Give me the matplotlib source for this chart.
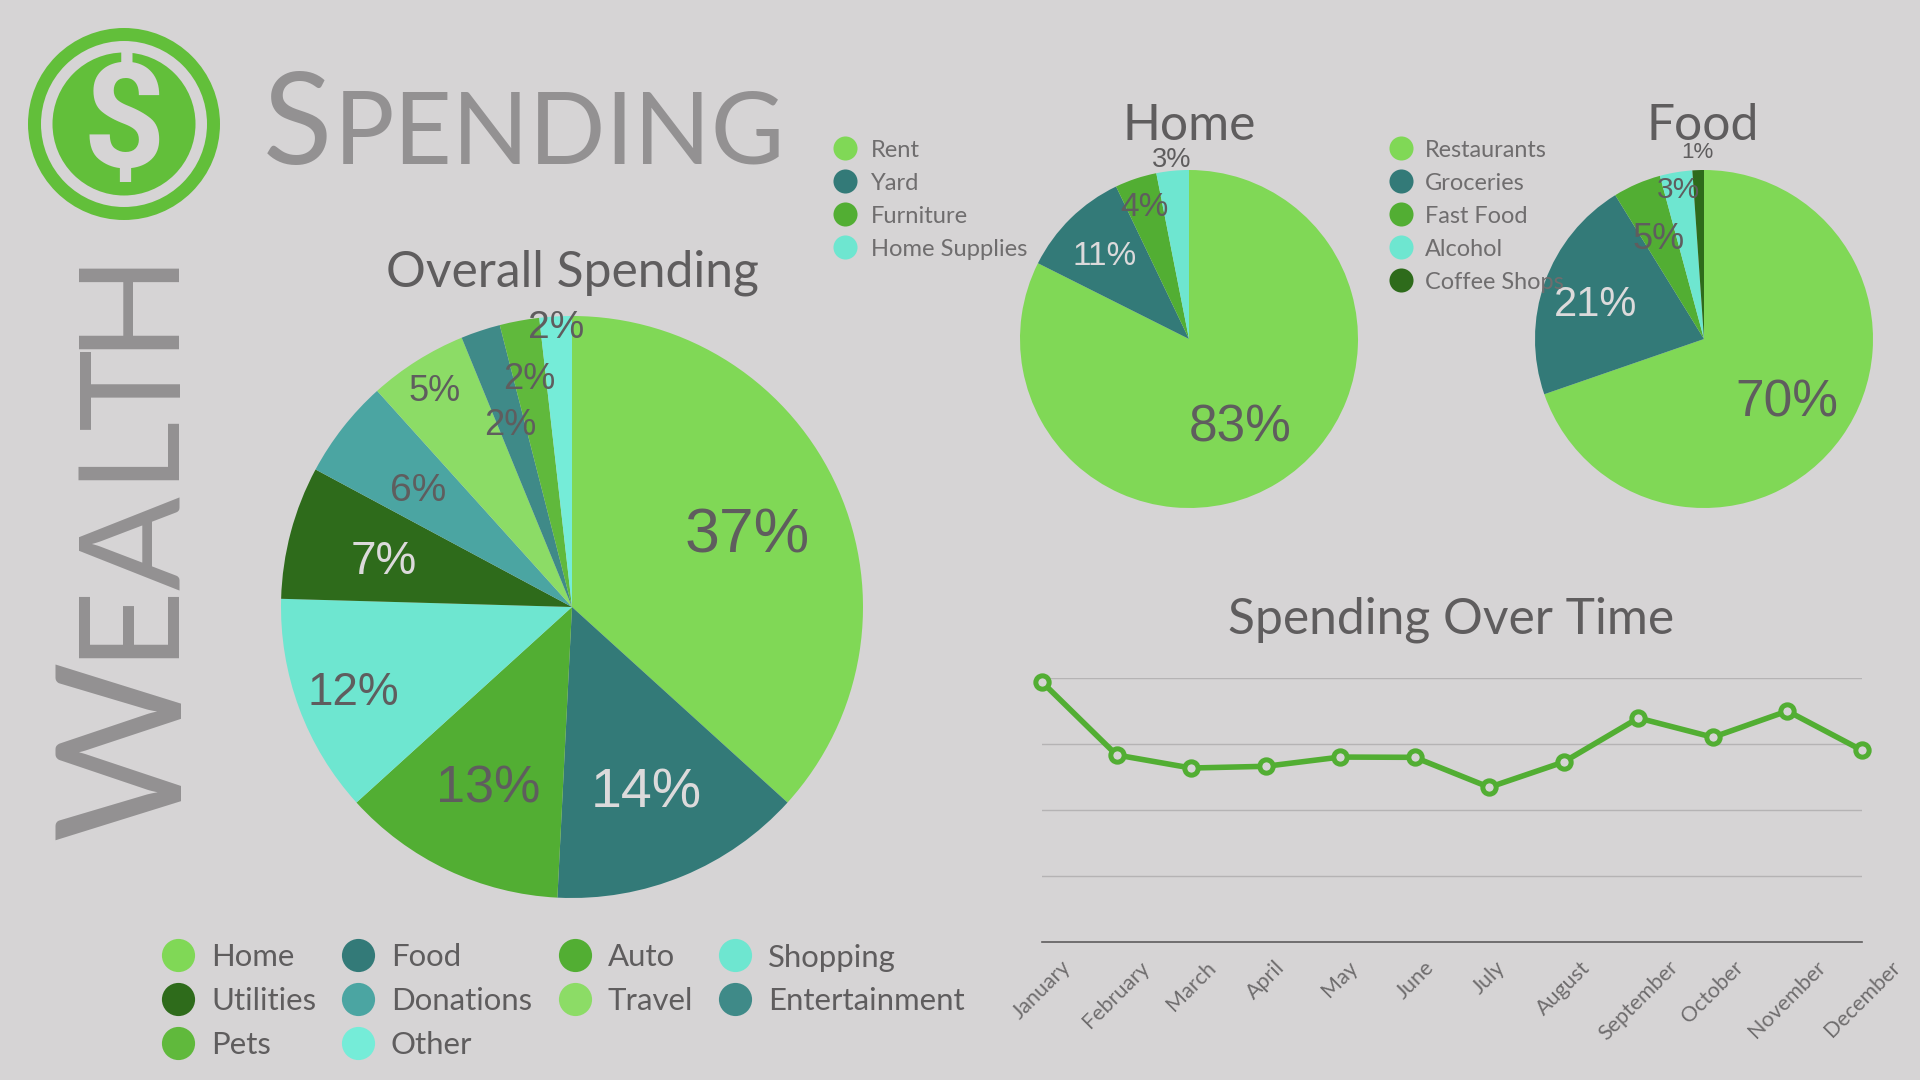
import numpy as np
import matplotlib
matplotlib.use('Agg')
import matplotlib.pyplot as plt
from matplotlib.patches import Circle

BG = '#d6d4d5'
DARK = '#5f5d5e'
LIGHT = '#dcdadb'
TITLE_GREY = '#939192'
GREEN = '#52ae33'

# overall pie
overall_names = ['Home', 'Food', 'Auto', 'Shopping', 'Utilities', 'Donations', 'Travel', 'Entertainment', 'Pets', 'Other']
overall_values = [36.8, 14.1, 12.5, 12.2, 7.4, 5.5, 5.5, 2.2, 2.2, 1.8]
overall_labels = ['37%', '14%', '13%', '12%', '7%', '6%', '5%', '2%', '2%', '2%']
overall_colors = ['#80d856', '#337a78', '#52ae33', '#6ee6d0', '#2e6b1b', '#4ba5a2', '#8cdc66', '#3f8a88', '#60b93c', '#75ecd8']
overall_dist = [.66, .67, .67, .80, .67, .67, .89, .67, .81, .975]
overall_size = [45, 40, 37.5, 33, 33, 28, 26, 26, 26, 28]
overall_text = [DARK, LIGHT, DARK, DARK, LIGHT, DARK, DARK, DARK, DARK, DARK]

# home pie
home_names = ['Rent', 'Yard', 'Furniture', 'Home Supplies']
home_values = [82.4, 10.5, 4.0, 3.1]
home_labels = ['83%', '11%', '4%', '3%']
home_colors = ['#80d856', '#337a78', '#52ae33', '#6ee6d0']
home_dist = [.58, .71, .84, 1.08]
home_size = [37, 24, 24, 19.5]
home_text = [DARK, LIGHT, DARK, DARK]

# food pie
food_names = ['Restaurants', 'Groceries', 'Fast Food', 'Alcohol', 'Coffee Shops']
food_values = [69.7, 21.5, 4.6, 3.1, 1.1]
food_labels = ['70%', '21%', '5%', '3%', '1%']
food_colors = ['#80d856', '#337a78', '#52ae33', '#6ee6d0', '#2e6b1b']
food_dist = [.60, .68, .67, .91, 1.12]
food_size = [37, 30, 26, 21.5, 16]
food_text = [DARK, LIGHT, DARK, DARK, DARK]

# line
months = ['January', 'February', 'March', 'April', 'May', 'June', 'July', 'August',
          'September', 'October', 'November', 'December']
spending = [1970, 1417, 1318, 1331, 1401, 1399, 1172, 1364, 1697, 1551, 1750, 1452]

plt.rcParams['font.family'] = ['Lato', 'DejaVu Sans']
W, H = 1920, 1080
fig = plt.figure(figsize=(W / 100, H / 100), dpi=100, facecolor=BG)


def pie(cx, cy, r, values, colors, labels, dist, sizes, text_colors):
    ax = fig.add_axes([(cx - r) / W, 1 - (cy + r) / H, 2 * r / W, 2 * r / H])
    ax.pie(values, colors=colors, startangle=90, counterclock=False, radius=1,
           wedgeprops={'linewidth': 0})
    ax.set_xlim(-1, 1)
    ax.set_ylim(-1, 1)
    ends = np.cumsum(values)
    mids = (ends - np.array(values) / 2) / sum(values) * 2 * np.pi
    for m, d, lab, s, c in zip(mids, dist, labels, sizes, text_colors):
        ax.text(d * np.sin(m), d * np.cos(m), lab, ha='center', va='center_baseline', fontsize=s,
                color=c, family=['Liberation Sans'], zorder=10)


pie(572, 607, 291, overall_values, overall_colors, overall_labels, overall_dist, overall_size, overall_text)
pie(1189, 339, 169, home_values, home_colors, home_labels, home_dist, home_size, home_text)
pie(1704, 339, 169, food_values, food_colors, food_labels, food_dist, food_size, food_text)

# spending over time
ax = fig.add_axes([1042 / W, 1 - 942 / H, 820 / W, 264 / H], facecolor='none')
ax.plot(range(12), spending, color=GREEN, lw=4, marker='o', ms=9.6, mfc=BG, mew=3.6, clip_on=False, zorder=5)
ax.set_xlim(0, 11)
ax.set_ylim(0, 2000)
ax.set_yticks([500, 1000, 1500, 2000])
ax.set_yticklabels([])
ax.yaxis.grid(True, color='#b5b3b4', lw=1)
ax.set_axisbelow(True)
ax.tick_params(length=0)
ax.set_xticks(range(12))
ax.set_xticklabels(months, rotation=45, ha='center', va='top', fontsize=15.5, color='#6f6d6e')
ax.tick_params(axis='x', pad=11)
for s in ['top', 'left', 'right']:
    ax.spines[s].set_visible(False)
ax.spines['bottom'].set_color(DARK)
ax.spines['bottom'].set_linewidth(1.2)

# everything placed by pixel: logo, headings, legends
ov = fig.add_axes([0, 0, 1, 1], facecolor='none')
ov.set_xlim(0, W)
ov.set_ylim(H, 0)
ov.axis('off')

ov.add_patch(Circle((124, 124), 96, color='#62bf3a', lw=0))
ov.add_patch(Circle((124, 124), 83, color=BG, lw=0))
ov.add_patch(Circle((124, 124), 71.5, color='#62bf3a', lw=0))
ov.text(124, 127, '$', ha='center', va='center', fontsize=104, color=BG, fontweight='bold',
        family=['Roboto'])

ov.text(263, 164, 'S', fontsize=92, color=TITLE_GREY, va='baseline')
ov.text(334, 164, 'PENDING', fontsize=72.5, color=TITLE_GREY, va='baseline')

# rotated glyphs shift sideways by their left bearing, so x differs letter by letter
wealth_letters = 'WEALTH'
wealth_x = [179, 167, 179, 167, 179, 167]
wealth_y = [749, 618, 543, 444, 388, 296]
wealth_size = [126, 100, 100, 100, 100, 100]
for letter, x, y, size in zip(wealth_letters, wealth_x, wealth_y, wealth_size):
    ov.text(x, y, letter, fontsize=size, color=TITLE_GREY, rotation=90, rotation_mode='anchor',
            ha='center', va='baseline')

ov.text(572, 273, 'Overall Spending', ha='center', va='center', fontsize=35.8, color=DARK)
ov.text(1189, 126, 'Home', ha='center', va='center', fontsize=35.8, color=DARK)
ov.text(1703, 126, 'Food', ha='center', va='center', fontsize=35.8, color=DARK)
ov.text(1451, 620, 'Spending Over Time', ha='center', va='center', fontsize=35.8, color=DARK)

# overall legend runs down then across
big_x = [178, 358, 575, 735]
big_y = [955, 999, 1043]
big_pos = [(0, 0), (1, 0), (2, 0), (3, 0), (0, 1), (1, 1), (2, 1), (3, 1), (0, 2), (1, 2)]
for name, col, (i, j) in zip(overall_names, overall_colors, big_pos):
    ov.scatter(big_x[i], big_y[j], s=570, color=col, lw=0)
    ov.text(big_x[i] + 33, big_y[j] + 2.5, name, va='center', fontsize=22.4, color=DARK)

for name, col, y in zip(home_names, home_colors, [148, 181, 214, 247]):
    ov.scatter(845, y, s=300, color=col, lw=0)
    ov.text(871, y + 2.5, name, va='center', fontsize=17.1, color='#6f6d6e')
for name, col, y in zip(food_names, food_colors, [148, 181, 214, 247, 280]):
    ov.scatter(1401, y, s=300, color=col, lw=0)
    ov.text(1425, y + 2.5, name, va='center', fontsize=16.9, color='#6f6d6e')

fig.savefig('out.png', dpi=100, facecolor=BG)
